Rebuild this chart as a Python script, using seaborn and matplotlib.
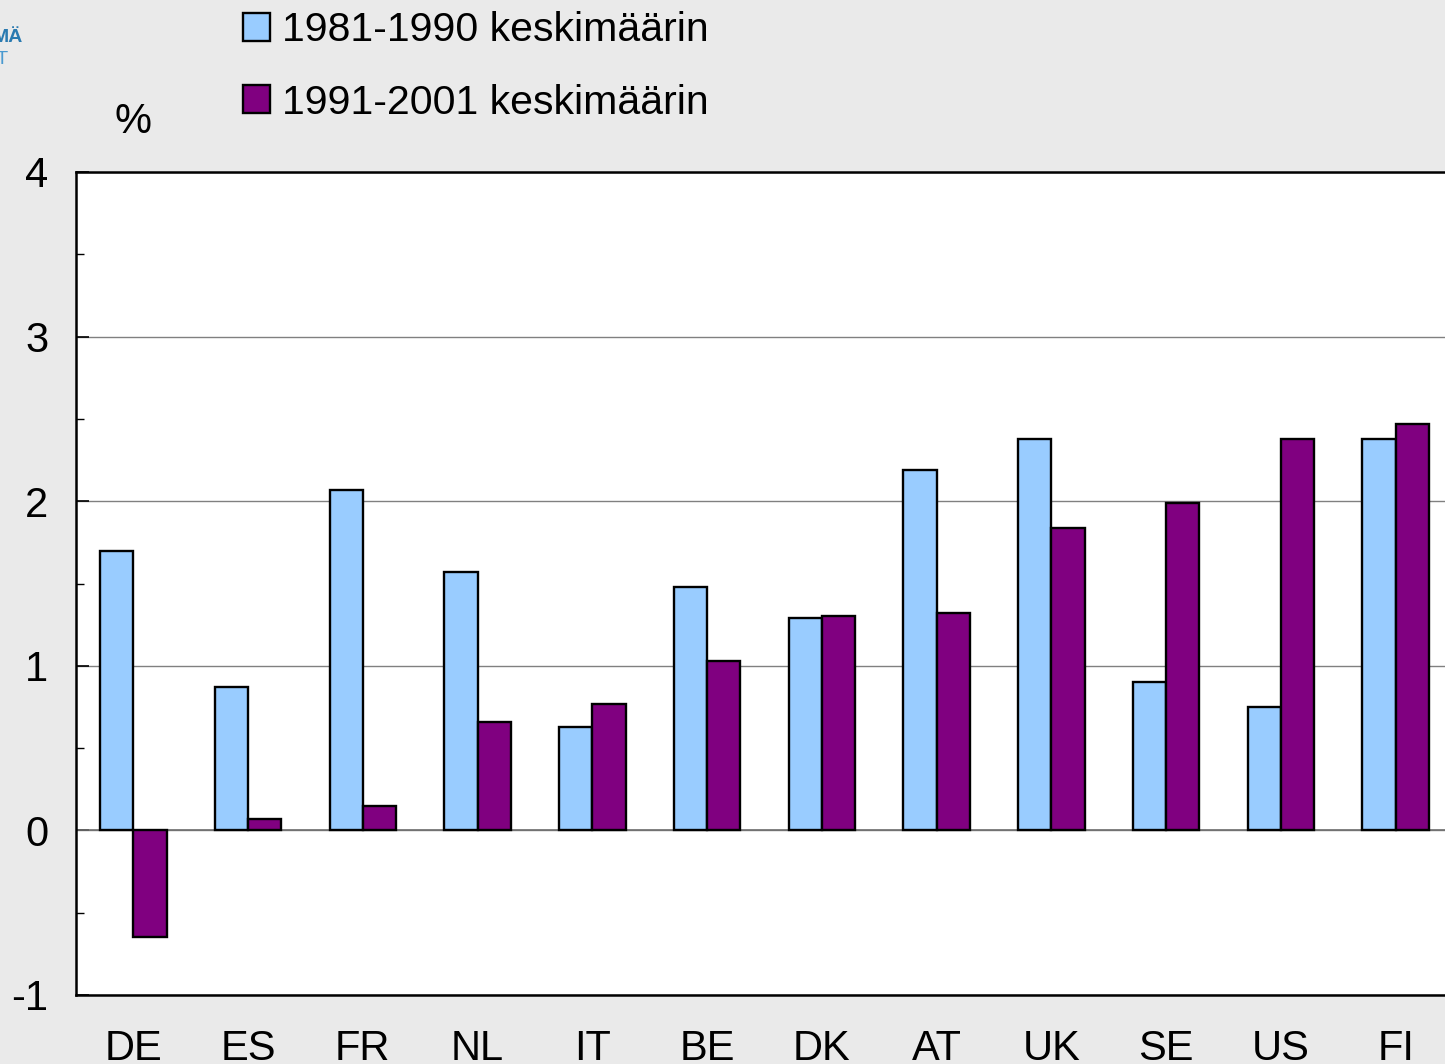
import matplotlib
matplotlib.use("Agg")
import matplotlib.pyplot as plt
from matplotlib.patches import Patch
from matplotlib.ticker import MultipleLocator
import seaborn as sns
import pandas as pd

countries = ["DE", "ES", "FR", "NL", "IT", "BE", "DK", "AT", "UK", "SE", "US", "FI"]
avg_1981_1990 = [1.70, 0.87, 2.07, 1.57, 0.63, 1.48, 1.29, 2.19, 2.38, 0.90, 0.75, 2.38]
avg_1991_2001 = [-0.65, 0.07, 0.15, 0.66, 0.77, 1.03, 1.30, 1.32, 1.84, 1.99, 2.38, 2.47]
series_labels = ["1981-1990 keskimäärin", "1991-2001 keskimäärin"]
colors = ["#99CCFF", "#800080"]

df = pd.DataFrame({
    "maa": countries * 2,
    "arvo": avg_1981_1990 + avg_1991_2001,
    "jakso": [series_labels[0]] * len(countries) + [series_labels[1]] * len(countries),
})

sns.set_style("white")
plt.rcParams["font.family"] = ["Liberation Sans", "DejaVu Sans"]
plt.rcParams["axes.unicode_minus"] = False
plt.rcParams["text.color"] = "black"
plt.rcParams["xtick.color"] = "black"
plt.rcParams["ytick.color"] = "black"
plt.rcParams["xtick.labelcolor"] = "black"
plt.rcParams["ytick.labelcolor"] = "black"

fig = plt.figure(figsize=(14.45, 10.64), dpi=100, facecolor="#EAEAEA")
ax = fig.add_axes([76 / 1445, 1 - 995 / 1064, (1453 - 76) / 1445, (995 - 172) / 1064])
ax.set_facecolor("white")

sns.barplot(data=df, x="maa", y="arvo", hue="jakso", hue_order=series_labels,
            palette=colors, saturation=1, width=0.58, gap=0,
            edgecolor="black", linewidth=1.7, legend=False, ax=ax, zorder=3)

ax.set_xlim(-0.5, 11.5)
ax.set_ylim(-1, 4)
ax.yaxis.set_major_locator(MultipleLocator(1))
ax.yaxis.set_minor_locator(MultipleLocator(0.5))
ax.grid(axis="y", which="major", color="#808080", linewidth=1.0, zorder=0)
ax.set_axisbelow(True)
ax.axhline(0, color="#707070", linewidth=1.2, zorder=2)

for side in ["top", "left", "bottom"]:
    ax.spines[side].set_color("black")
    ax.spines[side].set_linewidth(1.8)
ax.spines["right"].set_visible(False)

ax.tick_params(axis="y", which="major", direction="in", length=9, width=1.2,
               left=True, labelsize=30, pad=20, color="black", labelcolor="black")
ax.tick_params(axis="y", which="minor", direction="in", length=6, width=1.0,
               left=True, color="black")
ax.tick_params(axis="x", which="both", bottom=False, labelsize=30, pad=21,
               labelcolor="black")
ax.set_xlabel("")
ax.set_ylabel("")

fig.text(133 / 1445, 1 - 122 / 1064, "%", fontsize=30, ha="center", va="center",
         color="black")

handles = [Patch(facecolor=c, edgecolor="black", linewidth=1.7) for c in colors]
leg = fig.legend(handles, series_labels, loc="upper left",
                 bbox_to_anchor=(239 / 1445, 1 - 7 / 1064), frameon=False,
                 fontsize=29.5, handlelength=0.66, handleheight=0.66,
                 handletextpad=0.29, labelspacing=0.84, borderaxespad=0.0,
                 borderpad=0.1)
for t in leg.get_texts():
    t.set_color("black")

fig.text(23 / 1445, 1 - 37 / 1064, "MÄ", fontsize=14, fontweight="bold",
         color="#2A7AB0", ha="right", va="center")
fig.text(9 / 1445, 1 - 60 / 1064, "LT", fontsize=14, color="#4A9AD0",
         ha="right", va="center")

fig.savefig("out.png", dpi=100, facecolor=fig.get_facecolor())
